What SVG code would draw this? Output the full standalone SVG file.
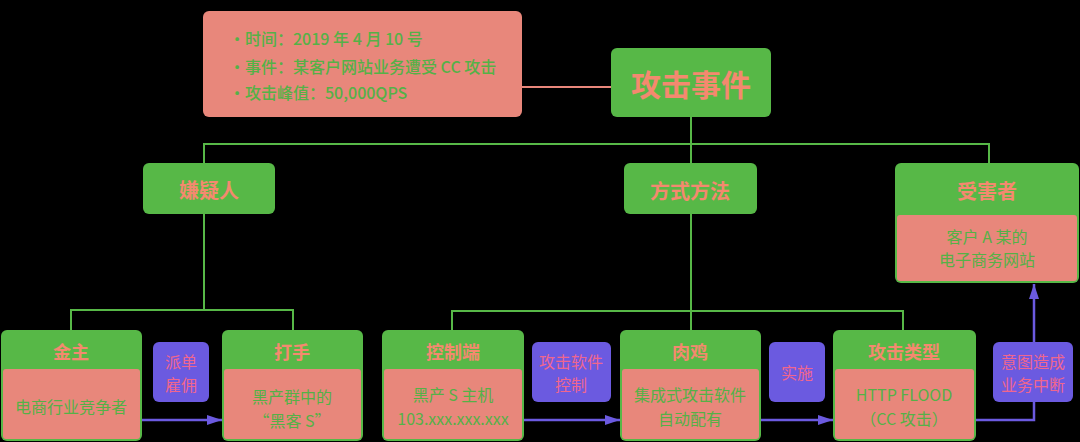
<svg xmlns="http://www.w3.org/2000/svg" width="1080" height="442" viewBox="0 0 1080 442">
<defs>
<style>
.bg{fill:#000}
.g{fill:#57b847}
.s{fill:#e8877b}
.p{fill:#6b5ae0}
.t{font-family:"Noto Sans CJK SC","Noto Sans",sans-serif;text-anchor:middle;dominant-baseline:central}
.h1{font-size:30px;font-weight:700;fill:#f4896f}
.h2{font-size:20px;font-weight:700;fill:#f4896f}
.h3{font-size:18px;font-weight:700;fill:#f4896f}
.b{font-size:16px;fill:#55b147}
.pt{font-size:16px;fill:#f0668e}
.info{font-family:"Noto Sans CJK SC","Noto Sans",sans-serif;font-size:16px;font-weight:500;fill:#55b147;dominant-baseline:central}
.lg{stroke:#57b847;stroke-width:2;fill:none}
.ls{stroke:#e8877b;stroke-width:2;fill:none}
.lp{stroke:#6b5ae0;stroke-width:2.5;fill:none}
</style>
<marker id="ah" viewBox="0 0 15 10" refX="15" refY="5" markerWidth="15" markerHeight="10" markerUnits="userSpaceOnUse" orient="auto">
<path d="M0,0 L15,5 L0,10 Z" fill="#6b5ae0"/>
</marker>
</defs>
<rect class="bg" x="0" y="0" width="1080" height="442"/>

<g id="connectors">
<line class="ls" x1="522" y1="87" x2="611" y2="87"/>
<polyline class="lg" points="691,117 691,330"/>
<polyline class="lg" points="204,163 204,144 989,144 989,163"/>
<polyline class="lg" points="204,214 204,310"/>
<polyline class="lg" points="71,330 71,310 293,310 293,330"/>
<polyline class="lg" points="452,330 452,311 903,311 903,330"/>
<line class="lp" x1="142" y1="420" x2="222" y2="420" marker-end="url(#ah)"/>
<line class="lp" x1="524" y1="420" x2="620" y2="420" marker-end="url(#ah)"/>
<line class="lp" x1="761" y1="420" x2="833" y2="420" marker-end="url(#ah)"/>
<polyline class="lp" points="976,420 1034,420 1034,284" marker-end="url(#ah)"/>
</g>

<g id="info">
<rect class="s" x="203" y="11" width="319" height="106" rx="6"/>
<text class="info" x="229" y="38">·时间：2019 年 4 月 10 号</text>
<text class="info" x="229" y="66">·事件：某客户网站业务遭受 CC 攻击</text>
<text class="info" x="229" y="92">·攻击峰值：50,000QPS</text>
</g>

<g id="event">
<rect class="g" x="611" y="48" width="160" height="69" rx="6"/>
<text class="t h1" x="691" y="83">攻击事件</text>
</g>

<g id="suspect">
<rect class="g" x="143" y="163" width="132" height="51" rx="6"/>
<text class="t h2" x="209" y="189">嫌疑人</text>
</g>

<g id="method">
<rect class="g" x="624" y="163" width="133" height="51" rx="6"/>
<text class="t h2" x="690" y="190">方式方法</text>
</g>

<g id="victim">
<rect class="g" x="895" y="163" width="184" height="120" rx="6"/>
<rect class="s" x="897" y="215" width="180" height="66" rx="3"/>
<text class="t h2" x="987" y="190">受害者</text>
<text class="t b" x="987" y="236">客户 A 某的</text>
<text class="t b" x="987" y="259">电子商务网站</text>
</g>

<g id="sponsor">
<rect class="g" x="1" y="330" width="141" height="111" rx="6"/>
<rect class="s" x="3" y="369" width="137" height="70" rx="3"/>
<text class="t h3" x="71" y="351">金主</text>
<text class="t b" x="71" y="406">电商行业竞争者</text>
</g>

<g id="hire">
<rect class="p" x="153" y="342" width="56" height="60" rx="6"/>
<text class="t pt" x="181" y="361">派单</text>
<text class="t pt" x="181" y="384">雇佣</text>
</g>

<g id="hacker">
<rect class="g" x="222" y="330" width="141" height="111" rx="6"/>
<rect class="s" x="224" y="369" width="137" height="70" rx="3"/>
<text class="t h3" x="292" y="351">打手</text>
<text class="t b" x="292" y="396">黑产群中的</text>
<text class="t b" x="292" y="420">“黑客 S”</text>
</g>

<g id="controller">
<rect class="g" x="382" y="330" width="142" height="111" rx="6"/>
<rect class="s" x="384" y="369" width="138" height="70" rx="3"/>
<text class="t h3" x="453" y="351">控制端</text>
<text class="t b" x="453" y="394">黑产 S 主机</text>
<text class="t b" x="453" y="418">103.xxx.xxx.xxx</text>
</g>

<g id="control">
<rect class="p" x="532" y="342" width="79" height="60" rx="6"/>
<text class="t pt" x="571" y="361">攻击软件</text>
<text class="t pt" x="571" y="384">控制</text>
</g>

<g id="botnet">
<rect class="g" x="620" y="330" width="141" height="111" rx="6"/>
<rect class="s" x="622" y="369" width="137" height="70" rx="3"/>
<text class="t h3" x="690" y="351">肉鸡</text>
<text class="t b" x="690" y="394">集成式攻击软件</text>
<text class="t b" x="690" y="418">自动配有</text>
</g>

<g id="execute">
<rect class="p" x="769" y="342" width="56" height="60" rx="6"/>
<text class="t pt" x="797" y="372">实施</text>
</g>

<g id="attacktype">
<rect class="g" x="833" y="330" width="143" height="111" rx="6"/>
<rect class="s" x="835" y="369" width="139" height="70" rx="3"/>
<text class="t h3" x="904" y="351">攻击类型</text>
<text class="t b" x="904" y="394">HTTP FLOOD</text>
<text class="t b" x="904" y="418">（CC 攻击）</text>
</g>

<g id="intent">
<rect class="p" x="993" y="342" width="80" height="60" rx="6"/>
<text class="t pt" x="1033" y="361">意图造成</text>
<text class="t pt" x="1033" y="384">业务中断</text>
</g>
</svg>
